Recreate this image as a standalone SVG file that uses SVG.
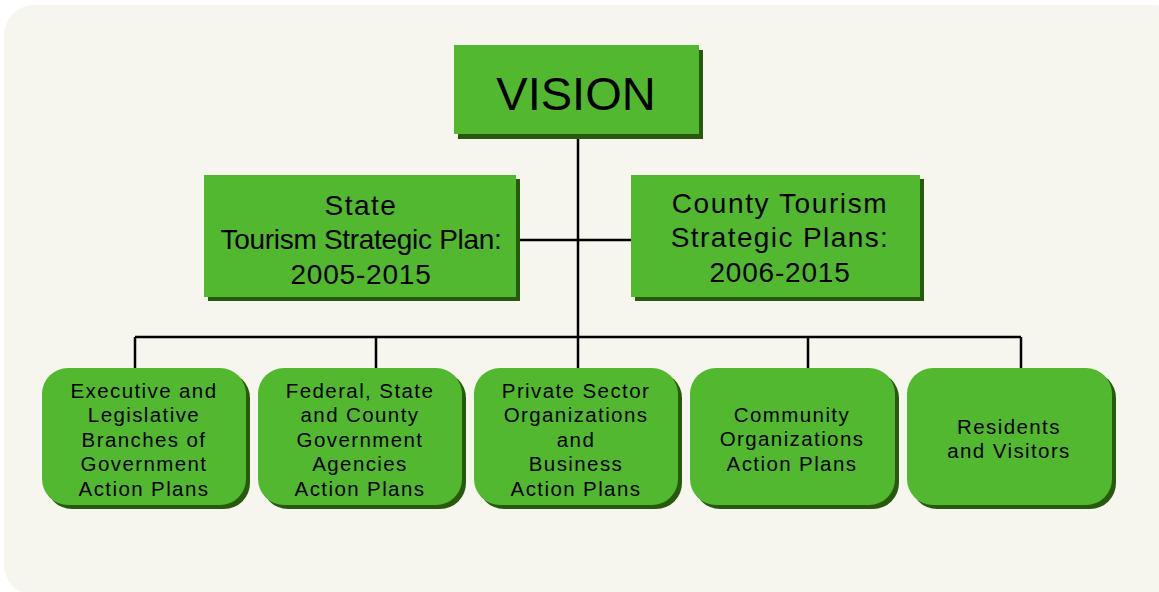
<svg xmlns="http://www.w3.org/2000/svg" width="1159" height="592" viewBox="0 0 1159 592">
<defs>
<style>
.bg{fill:#f6f5ee}
.box{fill:#52b830}
.sh{fill:#285a0e}
.ln{stroke:#000;stroke-width:2.5;fill:none}
text{font-family:"Liberation Sans",Arial,sans-serif;fill:#000;text-anchor:middle}
.t1{font-size:47px}
.t2{font-size:28px}
.t3{font-size:20.5px;letter-spacing:1.4px}
</style>
</defs>
<rect x="0" y="0" width="1159" height="592" fill="#ffffff"/>
<rect class="bg" x="4" y="5" width="1180" height="590" rx="30"/>
<g id="connectors">
<path class="ln" d="M578 134V368"/>
<path class="ln" d="M516 240H631"/>
<path class="ln" d="M135 337H1021"/>
<path class="ln" d="M135 337V368M376 337V368M808 337V368M1021 337V368"/>
</g>
<g id="vision">
<rect class="sh" x="458" y="50" width="245" height="89"/>
<rect class="box" x="454" y="45" width="245" height="89"/>
<text class="t1" x="576" y="110">VISION</text>
</g>
<g id="state">
<rect class="sh" x="208" y="179" width="312" height="122"/>
<rect class="box" x="204" y="175" width="312" height="122"/>
<text class="t2" x="361" y="215" letter-spacing="1.5">State</text>
<text class="t2" x="361" y="249" letter-spacing="-0.3">Tourism Strategic Plan:</text>
<text class="t2" x="361" y="284" letter-spacing="0.8">2005-2015</text>
</g>
<g id="county">
<rect class="sh" x="635" y="179" width="289" height="122"/>
<rect class="box" x="631" y="175" width="289" height="122"/>
<text class="t2" x="780" y="213" letter-spacing="1.6">County Tourism</text>
<text class="t2" x="780" y="247" letter-spacing="1.4">Strategic Plans:</text>
<text class="t2" x="780" y="282" letter-spacing="0.8">2006-2015</text>
</g>
<g id="executive">
<rect class="sh" x="46" y="372" width="204" height="137" rx="26"/>
<rect class="box" x="42" y="368" width="204" height="137" rx="26"/>
<text class="t3" x="144" y="398">Executive and</text>
<text class="t3" x="144" y="422">Legislative</text>
<text class="t3" x="144" y="447">Branches of</text>
<text class="t3" x="144" y="471">Government</text>
<text class="t3" x="144" y="496">Action Plans</text>
</g>
<g id="federal">
<rect class="sh" x="262" y="372" width="204" height="137" rx="26"/>
<rect class="box" x="258" y="368" width="204" height="137" rx="26"/>
<text class="t3" x="360" y="398">Federal, State</text>
<text class="t3" x="360" y="422">and County</text>
<text class="t3" x="360" y="447">Government</text>
<text class="t3" x="360" y="471">Agencies</text>
<text class="t3" x="360" y="496">Action Plans</text>
</g>
<g id="private">
<rect class="sh" x="478" y="372" width="204" height="137" rx="26"/>
<rect class="box" x="474" y="368" width="204" height="137" rx="26"/>
<text class="t3" x="576" y="398">Private Sector</text>
<text class="t3" x="576" y="422">Organizations</text>
<text class="t3" x="576" y="447">and</text>
<text class="t3" x="576" y="471">Business</text>
<text class="t3" x="576" y="496">Action Plans</text>
</g>
<g id="community">
<rect class="sh" x="694" y="372" width="205" height="137" rx="26"/>
<rect class="box" x="690" y="368" width="205" height="137" rx="26"/>
<text class="t3" x="792" y="422">Community</text>
<text class="t3" x="792" y="446">Organizations</text>
<text class="t3" x="792" y="471">Action Plans</text>
</g>
<g id="residents">
<rect class="sh" x="911" y="372" width="205" height="137" rx="26"/>
<rect class="box" x="907" y="368" width="205" height="137" rx="26"/>
<text class="t3" x="1009" y="434">Residents</text>
<text class="t3" x="1009" y="458">and Visitors</text>
</g>
</svg>
